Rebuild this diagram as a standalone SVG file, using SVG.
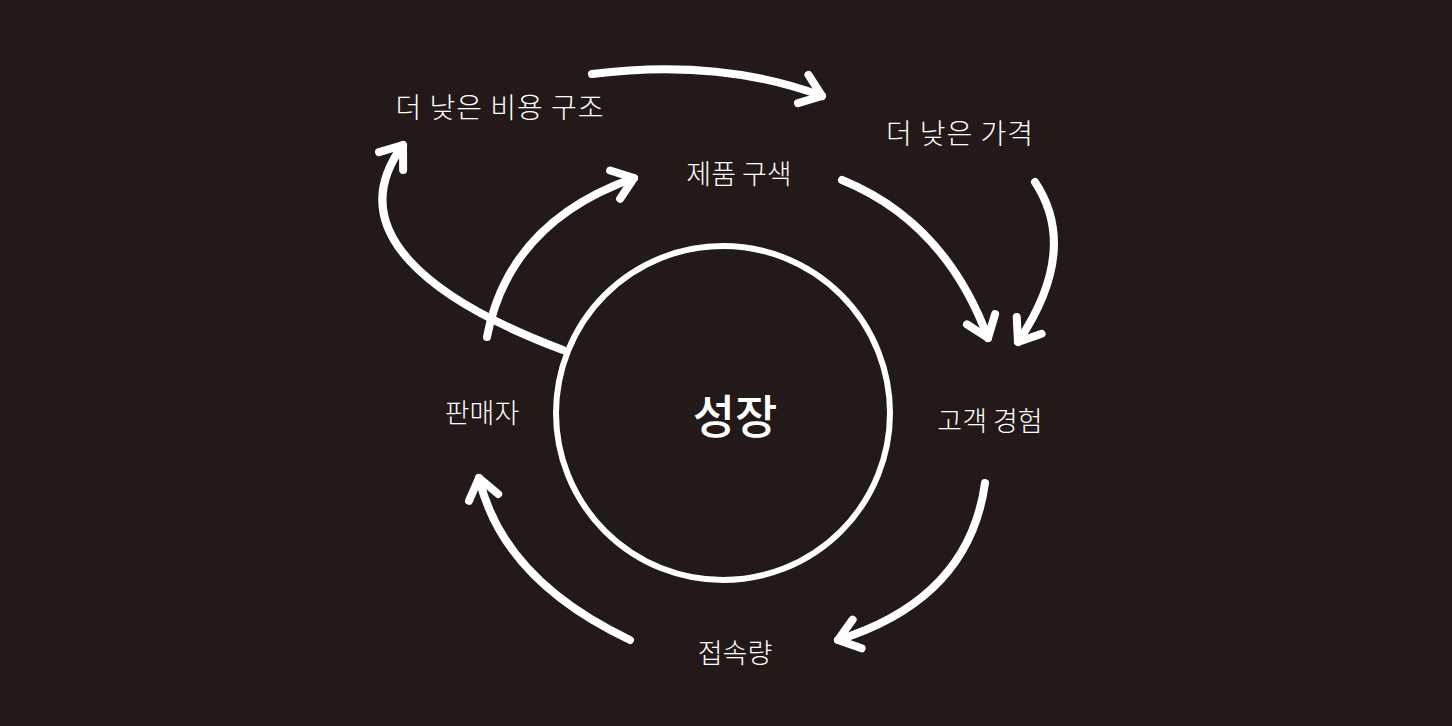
<svg xmlns="http://www.w3.org/2000/svg" width="1452" height="726" viewBox="0 0 1452 726">
<style>
.lbl{fill:#ffffff;font-family:"Noto Sans CJK KR","Noto Sans",sans-serif;font-weight:300;font-size:27px;text-anchor:middle;dominant-baseline:central}
.wide{font-size:28px;letter-spacing:1px}
.big{font-size:46px;font-weight:500}
.arr{fill:none;stroke:#ffffff;stroke-width:8;stroke-linecap:round;stroke-linejoin:round;marker-end:url(#chev)}
</style>
<defs>
<marker id="chev" markerUnits="userSpaceOnUse" markerWidth="60" markerHeight="60" viewBox="-30 -30 60 60" refX="0" refY="0" orient="auto" overflow="visible">
<path d="M-20,-15 L0,0 L-20,15" fill="none" stroke="#ffffff" stroke-width="8" stroke-linecap="round" stroke-linejoin="round"/>
</marker>
</defs>
<rect width="1452" height="726" fill="#231918"/>
<g id="connectors">
<path class="arr" d="M592,74 Q720,58 822,96"/>
<path class="arr" d="M842,180 Q945,222 988,338"/>
<path class="arr" d="M1035,182 Q1080,250 1018,342"/>
<path class="arr" d="M985,483 Q969,599 838,640"/>
<path class="arr" d="M630,640 Q503,580 479,478"/>
<path class="arr" d="M487,337 Q509,222 634,178"/>
<path class="arr" d="M563,350 C430,300 340,230 403,145"/>
</g>
<g id="growth">
<circle cx="723" cy="413" r="167" fill="none" stroke="#ffffff" stroke-width="6"/>
<text class="lbl big" x="735" y="413">성장</text>
</g>
<g id="lower-cost"><text class="lbl wide" x="500" y="106">더 낮은 비용 구조</text></g>
<g id="lower-price"><text class="lbl wide" x="960" y="132">더 낮은 가격</text></g>
<g id="selection"><text class="lbl" x="739" y="172">제품 구색</text></g>
<g id="customer-experience"><text class="lbl" x="990" y="419">고객 경험</text></g>
<g id="sellers"><text class="lbl" x="482" y="411">판매자</text></g>
<g id="traffic"><text class="lbl" x="735" y="651">접속량</text></g>
</svg>
